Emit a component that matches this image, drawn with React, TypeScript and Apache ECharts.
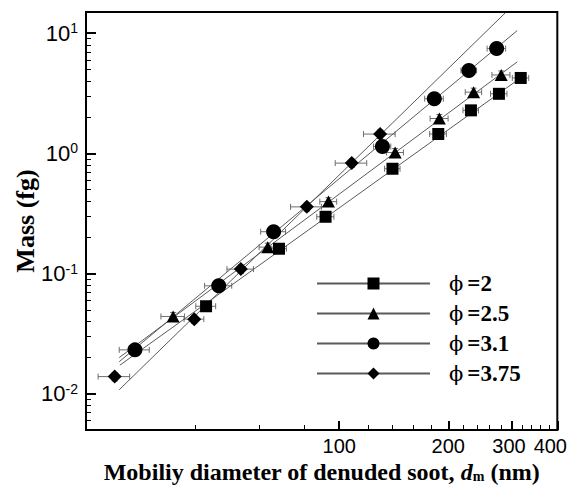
import React, { useEffect, useRef } from "react";
import * as echarts from "echarts";

// Axis ranges (nm, fg)
const X_MIN = 20;
const X_MAX = 400;
const Y_MIN = 0.005;
const Y_MAX = 15;

// Tick positions
const X_MAJOR = [100, 200, 300, 400];
const X_MINOR = [40, 60, 80, 120, 140, 160, 180, 220, 240, 260, 280, 320, 340, 360, 380];
const Y_MAJOR = [0.01, 0.1, 1, 10];
const Y_MINOR = [
  0.006, 0.007, 0.008, 0.009,
  0.02, 0.03, 0.04, 0.05, 0.06, 0.07, 0.08, 0.09,
  0.2, 0.3, 0.4, 0.5, 0.6, 0.7, 0.8, 0.9,
  2, 3, 4, 5, 6, 7, 8, 9,
];

// Equivalence ratios
const PHI = ["2", "2.5", "3.1", "3.75"];
const SYMBOLS = ["rect", "triangle", "circle", "diamond"];
const SYMBOL_SIZES: (number | number[])[] = [12, [13, 12], 15, 14];

// Measured mobility diameter (nm), mass (fg) and diameter uncertainty (nm)
const D_PHI_2 = [42.9, 68.2, 91.7, 140.3, 187.7, 231, 276, 317];
const M_PHI_2 = [0.0535, 0.161, 0.297, 0.745, 1.45, 2.28, 3.13, 4.24];
const DERR_PHI_2 = [2.7, 3.3, 5, 6.9, 10, 11.4, 14.4, 16.5];

const D_PHI_25 = [34.8, 63.5, 93.4, 142.7, 189, 235, 280];
const M_PHI_25 = [0.044, 0.166, 0.397, 1.017, 1.95, 3.23, 4.49];
const DERR_PHI_25 = [2.6, 3.4, 5, 7.7, 10.8, 12.2, 16];

const D_PHI_31 = [27.3, 46.5, 65.9, 131.6, 183, 228, 272];
const M_PHI_31 = [0.0232, 0.0792, 0.223, 1.14, 2.85, 4.9, 7.44];
const DERR_PHI_31 = [2.6, 4, 5.2, 7.2, 10.8, 11.2, 16];

const D_PHI_375 = [24.0, 39.8, 53.5, 81.4, 108.3, 129.7];
const M_PHI_375 = [0.0139, 0.0418, 0.109, 0.359, 0.83, 1.447];
const DERR_PHI_375 = [2.4, 2.5, 4.5, 8, 10.8, 13];

// Relative mass uncertainty
const MASS_REL_ERR = 0.08;

// Power-law fit end points (diameter nm, mass fg)
const FIT_D_PHI_2 = [24.8, 322];
const FIT_M_PHI_2 = [0.0173, 4.4];
const FIT_D_PHI_25 = [24.7, 310];
const FIT_M_PHI_25 = [0.02, 5.77];
const FIT_D_PHI_31 = [24.7, 310];
const FIT_M_PHI_31 = [0.0185, 10.5];
const FIT_D_PHI_375 = [24.7, 287];
const FIT_M_PHI_375 = [0.0108, 14.7];

const MEASURED = [
  { d: D_PHI_2, m: M_PHI_2, e: DERR_PHI_2 },
  { d: D_PHI_25, m: M_PHI_25, e: DERR_PHI_25 },
  { d: D_PHI_31, m: M_PHI_31, e: DERR_PHI_31 },
  { d: D_PHI_375, m: M_PHI_375, e: DERR_PHI_375 },
];
const FITS = [
  { d: FIT_D_PHI_2, m: FIT_M_PHI_2 },
  { d: FIT_D_PHI_25, m: FIT_M_PHI_25 },
  { d: FIT_D_PHI_31, m: FIT_M_PHI_31 },
  { d: FIT_D_PHI_375, m: FIT_M_PHI_375 },
];

const SANS = "Liberation Sans, Arial, sans-serif";
const SERIF = "Liberation Serif, Times New Roman, serif";
const PHI_FONT = "DejaVu Serif, serif";
const LINE_GRAY = "#5a5a5a";
const BAR_GRAY = "#6e6e6e";

const lg = (v: number) => Math.log10(v);

function buildOption() {
  const legendNames = PHI.map((p) => `ϕ =${p}`);

  const errorBars = MEASURED.map((s, i) => ({
    type: "custom",
    name: `${legendNames[i]} bars`,
    xAxisIndex: 0,
    yAxisIndex: 0,
    silent: true,
    z: 1,
    encode: { x: 0, y: 1 },
    data: s.d.map((d, k) => [d, s.m[k], s.e[k]]),
    renderItem: (_params: any, api: any) => {
      const x = api.value(0);
      const y = api.value(1);
      const dx = api.value(2);
      const l = api.coord([x - dx, y]);
      const r = api.coord([x + dx, y]);
      const t = api.coord([x, y * (1 + MASS_REL_ERR)]);
      const b = api.coord([x, y * (1 - MASS_REL_ERR)]);
      const cap = 3;
      const style = { stroke: BAR_GRAY, lineWidth: 1, fill: "none" };
      const ln = (x1: number, y1: number, x2: number, y2: number) => ({
        type: "line",
        shape: { x1, y1, x2, y2 },
        style,
      });
      return {
        type: "group",
        children: [
          ln(l[0], l[1], r[0], r[1]),
          ln(l[0], l[1] - cap, l[0], l[1] + cap),
          ln(r[0], r[1] - cap, r[0], r[1] + cap),
          ln(t[0], t[1], b[0], b[1]),
          ln(t[0] - cap, t[1], t[0] + cap, t[1]),
          ln(b[0] - cap, b[1], b[0] + cap, b[1]),
        ],
      };
    },
  }));

  const fitLines = FITS.map((f, i) => ({
    type: "line",
    name: legendNames[i],
    xAxisIndex: 0,
    yAxisIndex: 0,
    z: 2,
    silent: true,
    showSymbol: false,
    symbol: SYMBOLS[i],
    lineStyle: { color: LINE_GRAY, width: 1 },
    itemStyle: { color: "#000" },
    data: f.d.map((d, k) => [d, f.m[k]]),
  }));

  const points = MEASURED.map((s, i) => ({
    type: "scatter",
    name: `${legendNames[i]} points`,
    xAxisIndex: 0,
    yAxisIndex: 0,
    z: 3,
    silent: true,
    symbol: SYMBOLS[i],
    symbolSize: SYMBOL_SIZES[i],
    itemStyle: { color: "#000", opacity: 1 },
    data: s.d.map((d, k) => [d, s.m[k]]),
  }));

  const hiddenLine = { show: false, onZero: false };

  // Labels near the right end sit slightly left of their ticks
  const xLabelShift: Record<number, string> = { 300: "r3", 400: "r7" };
  const xLabelFont = { fontFamily: SANS, fontSize: 20, color: "#000", lineHeight: 18 };

  return {
    animation: false,
    backgroundColor: "#fff",
    grid: {
      left: 86,
      right: 24,
      top: 12,
      bottom: 55,
      show: true,
      borderColor: "#000",
      borderWidth: 2,
      backgroundColor: "transparent",
    },
    legend: {
      data: legendNames,
      orient: "vertical",
      left: 316,
      top: 272,
      padding: 0,
      itemWidth: 113,
      itemHeight: 15,
      itemGap: 7,
      selectedMode: false,
      formatter: (name: string) => `{phi|ϕ}{b|=${name.split("=")[1]}}`,
      textStyle: {
        color: "#000",
        rich: {
          phi: { fontFamily: PHI_FONT, fontSize: 21, lineHeight: 20, color: "#000", padding: [0, 4, 0, 14] },
          b: { fontFamily: SERIF, fontSize: 23, fontWeight: "bold", lineHeight: 20, color: "#000" },
        },
      },
    },
    xAxis: [
      {
        type: "log",
        logBase: 10,
        min: X_MIN,
        max: X_MAX,
        position: "bottom",
        axisLine: { show: true, onZero: false, lineStyle: { color: "#000", width: 2 } },
        axisTick: { show: false },
        axisLabel: { show: false },
        splitLine: { show: false },
        minorTick: { show: false },
        name: "{t|Mobiliy diameter of denuded soot, }{i|d}{s|m}{t| (nm)}",
        nameLocation: "middle",
        nameGap: 31,
        nameTextStyle: {
          rich: {
            t: { fontFamily: SERIF, fontSize: 24, fontWeight: "bold", color: "#000", lineHeight: 22 },
            i: { fontFamily: SERIF, fontSize: 24, fontWeight: "bold", fontStyle: "italic", color: "#000", lineHeight: 22 },
            s: { fontFamily: SERIF, fontSize: 14, fontWeight: "bold", color: "#000", lineHeight: 12, verticalAlign: "bottom" },
          },
        },
      },
      {
        type: "value",
        min: lg(X_MIN),
        max: lg(X_MAX),
        position: "bottom",
        axisLine: hiddenLine,
        splitLine: { show: false },
        minorTick: { show: false },
        axisTick: {
          show: true,
          inside: true,
          length: 9,
          customValues: X_MAJOR.map(lg),
          lineStyle: { color: "#000", width: 2 },
        },
        axisLabel: {
          show: true,
          margin: 7,
          customValues: X_MAJOR.map(lg),
          formatter: (v: number) => {
            const n = Math.round(Math.pow(10, v));
            return `{${xLabelShift[n] || "c"}|${n}}`;
          },
          rich: {
            c: { ...xLabelFont },
            r3: { ...xLabelFont, padding: [0, 6, 0, 0] },
            r7: { ...xLabelFont, padding: [0, 14, 0, 0] },
          },
        },
      },
      {
        type: "value",
        min: lg(X_MIN),
        max: lg(X_MAX),
        position: "bottom",
        axisLine: hiddenLine,
        splitLine: { show: false },
        minorTick: { show: false },
        axisTick: {
          show: true,
          inside: true,
          length: 5,
          customValues: X_MINOR.map(lg),
          lineStyle: { color: "#000", width: 1 },
        },
        axisLabel: { show: false },
      },
    ],
    yAxis: [
      {
        type: "log",
        logBase: 10,
        min: Y_MIN,
        max: Y_MAX,
        position: "left",
        axisLine: { show: true, onZero: false, lineStyle: { color: "#000", width: 2 } },
        axisTick: { show: false },
        axisLabel: { show: false },
        splitLine: { show: false },
        minorTick: { show: false },
        name: "Mass (fg)",
        nameLocation: "middle",
        nameGap: 48,
        nameRotate: 90,
        nameTextStyle: {
          fontFamily: SERIF,
          fontSize: 26,
          fontWeight: "bold",
          color: "#000",
        },
      },
      {
        type: "value",
        min: lg(Y_MIN),
        max: lg(Y_MAX),
        position: "left",
        axisLine: hiddenLine,
        splitLine: { show: false },
        minorTick: { show: false },
        axisTick: {
          show: true,
          inside: true,
          length: 10,
          customValues: Y_MAJOR.map(lg),
          lineStyle: { color: "#000", width: 2 },
        },
        axisLabel: {
          show: true,
          margin: 8,
          customValues: Y_MAJOR.map(lg),
          formatter: (v: number) => `{b|10}{sup|${Math.round(v)}}`,
          rich: {
            b: { fontFamily: SANS, fontSize: 22, color: "#000", lineHeight: 24 },
            sup: { fontFamily: SANS, fontSize: 14, color: "#000", lineHeight: 18, verticalAlign: "top" },
          },
        },
      },
      {
        type: "value",
        min: lg(Y_MIN),
        max: lg(Y_MAX),
        position: "left",
        axisLine: hiddenLine,
        splitLine: { show: false },
        minorTick: { show: false },
        axisTick: {
          show: true,
          inside: true,
          length: 5,
          customValues: Y_MINOR.map(lg),
          lineStyle: { color: "#000", width: 1 },
        },
        axisLabel: { show: false },
      },
    ],
    series: [...errorBars, ...fitLines, ...points],
  };
}

export default function App() {
  const ref = useRef<HTMLDivElement>(null);

  useEffect(() => {
    if (!ref.current) return;
    const chart = echarts.init(ref.current, undefined, { renderer: "svg" });
    chart.setOption(buildOption() as any);
    return () => chart.dispose();
  }, []);

  return (
    <div
      ref={ref}
      style={{ position: "fixed", left: 0, top: 0, width: 584, height: 489, background: "#fff" }}
    />
  );
}
